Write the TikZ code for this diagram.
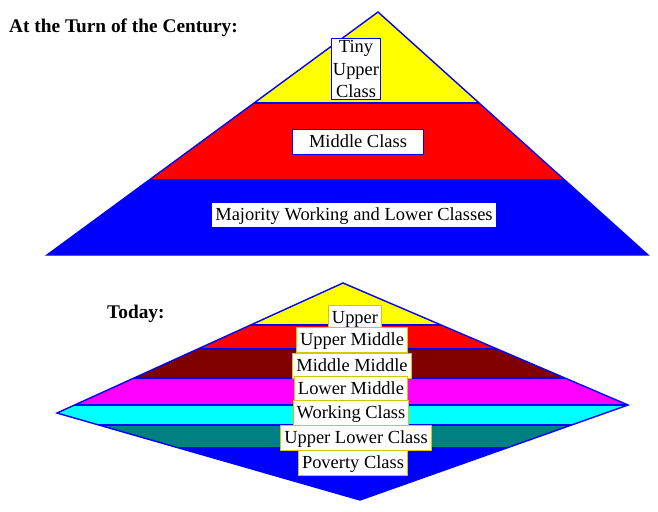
\documentclass[tikz,border=0pt]{standalone}
\usepackage{fontspec}
\setmainfont{Liberation Serif}
\definecolor{ylw}{RGB}{255,255,0}
\definecolor{rd}{RGB}{255,0,0}
\definecolor{bl}{RGB}{0,0,255}
\definecolor{drd}{RGB}{128,0,0}
\definecolor{mag}{RGB}{255,0,255}
\definecolor{cya}{RGB}{0,255,255}
\definecolor{teal2}{RGB}{0,128,128}
\tikzset{lbl/.style={fill=white,draw=bl,line width=0.6pt,inner sep=2pt,font=\fontsize{10.5}{12}\selectfont,text height=8pt,text depth=2pt},
 lbl2/.style={lbl,draw=ylw!80!black},
 ttl/.style={font=\bfseries\fontsize{11}{13}\selectfont,anchor=west}}
\begin{document}
\begin{tikzpicture}[x=0.02cm,y=-0.02cm]
\useasboundingbox (0,0) rectangle (658,511);
\fill[white] (0,0) rectangle (658,511);
% top pyramid
\begin{scope}
\clip (378,12) -- (648,255) -- (47,255) -- cycle;
\fill[ylw] (0,0) rectangle (658,103);
\fill[rd] (0,103) rectangle (658,180);
\fill[bl] (0,180) rectangle (658,256);
\draw[bl,line width=0.6pt] (0,103) -- (658,103) (0,180) -- (658,180);
\end{scope}
\draw[bl,line width=0.8pt] (378,12) -- (648,255) -- (47,255) -- cycle;
\node[lbl,align=center,text height=,text depth=,inner sep=1pt,font=\fontsize{10.5}{13}\selectfont] (tiny) at (356,69) {Tiny\\Upper\\Class};
\node[lbl,minimum width=124\pgflinewidth] (mid) at (358,142) {Middle Class};
\node[lbl] (maj) at (354,215) {Majority Working and Lower Classes};
\node[ttl] (t1) at (3,28) {At the Turn of the Century:};
% bottom diamond
\begin{scope}
\clip (343,283) -- (628,405) -- (360,500) -- (57,413) -- cycle;
\fill[ylw] (0,280) rectangle (658,325);
\fill[rd] (0,325) rectangle (658,349);
\fill[drd] (0,349) rectangle (658,378);
\fill[mag] (0,378) rectangle (658,405);
\fill[cya] (0,405) rectangle (658,425);
\fill[teal2] (0,425) rectangle (658,447);
\fill[bl] (0,447) rectangle (658,505);
\draw[bl,line width=0.8pt] (0,325) -- (658,325) (0,349) -- (658,349) (0,378) -- (658,378) (0,405) -- (658,405) (0,425) -- (658,425);
\end{scope}
\draw[bl,line width=0.8pt] (343,283) -- (628,405) -- (360,500) -- (57,413) -- cycle;
\node[lbl2] (up) at (355,318) {Upper};
\node[lbl2] (um) at (352,340) {Upper Middle};
\node[lbl2] (mm) at (352,366) {Middle Middle};
\node[lbl2] (lm) at (351,389) {Lower Middle};
\node[lbl2] (wc) at (351,413) {Working Class};
\node[lbl2] (ul) at (356,438) {Upper Lower Class};
\node[lbl2] (pc) at (353,463) {Poverty Class};
\node[ttl] (t2) at (101,314) {Today:};
\end{tikzpicture}
\end{document}
